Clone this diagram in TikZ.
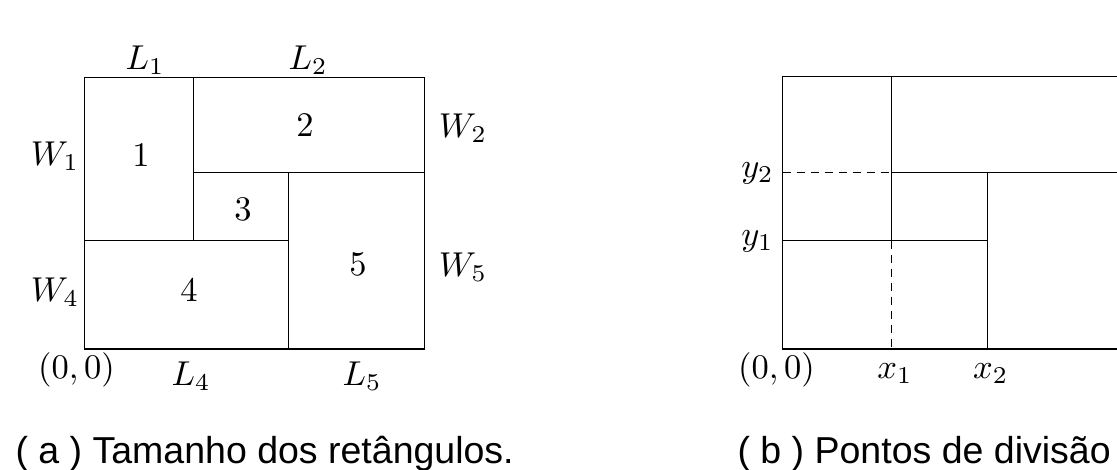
\documentclass[tikz,border=0pt]{standalone}
\usepackage{fontspec}
\newfontfamily\capfont{Liberation Sans}
\begin{document}
\begin{tikzpicture}[x=1pt,y=-1pt,line width=1.1pt,
  lab/.style={inner sep=0pt,anchor=base,scale=3.45,font=\fontsize{10}{12}\selectfont},
  captxt/.style={inner sep=0pt,anchor=base west,font=\fontsize{37.5}{44}\selectfont\capfont},
  dsh/.style={dash pattern=on 8pt off 6pt}]
\clip (0,0) rectangle (1117,469);
% ---------- panel (a) ----------
\draw (84.5,77.5) rectangle (424.5,349);
\draw (193.5,77.5) -- (193.5,240.5);
\draw (193.5,172.5) -- (424.5,172.5);
\draw (288.5,172.5) -- (288.5,349);
\draw (84.5,240.5) -- (288.5,240.5);
\node[lab] (l1) at (145,69) {$L_1$};
\node[lab] (l2) at (308,69) {$L_2$};
\node[lab] (w1) at (55,165) {$W_1$};
\node[lab] (w2) at (463,137) {$W_2$};
\node[lab] (w4) at (55,301) {$W_4$};
\node[lab] (w5) at (463,276) {$W_5$};
\node[lab] (n1) at (141,166) {$1$};
\node[lab] (n2) at (305,136) {$2$};
\node[lab] (n3) at (243,220.5) {$3$};
\node[lab] (n4) at (189,301.5) {$4$};
\node[lab] (n5) at (358,275) {$5$};
\node[lab] (o1) at (76.5,378) {$(0,0)$};
\node[lab] (l4) at (191,385) {$L_4$};
\node[lab] (l5) at (362,385) {$L_5$};
\node[captxt] (ca) at (15,463) {( a ) Tamanho dos retângulos.};
% ---------- panel (b) ----------
\draw (1125,76.5) -- (782.5,76.5) -- (782.5,349) -- (1125,349);
\draw (891.5,76.5) -- (891.5,240.5);
\draw[dsh] (891.5,240.5) -- (891.5,349);
\draw[dsh] (782.5,172.5) -- (891.5,172.5);
\draw (891.5,172.5) -- (1125,172.5);
\draw (782.5,240.5) -- (987.5,240.5);
\draw (987.5,172.5) -- (987.5,349);
\node[lab] (y2) at (757.5,177) {$y_2$};
\node[lab] (y1) at (757.5,245.5) {$y_1$};
\node[lab] (o2) at (776.5,378) {$(0,0)$};
\node[lab] (x1) at (895,378) {$x_1$};
\node[lab] (x2) at (990.7,378) {$x_2$};
\node[captxt] (cb) at (737,463) {( b ) Pontos de divisão};
\end{tikzpicture}
\end{document}
